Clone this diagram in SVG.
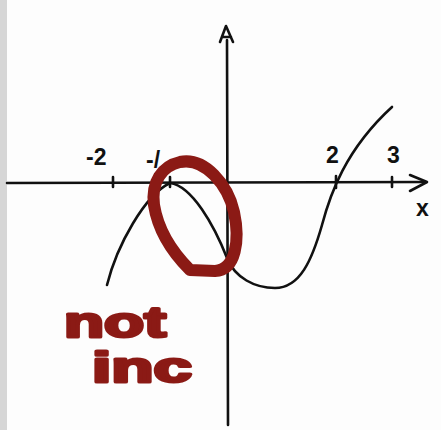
<svg xmlns="http://www.w3.org/2000/svg" width="441" height="430" viewBox="0 0 441 430">
<style>
.ink{fill:none;stroke:#111;stroke-width:2.6;stroke-linecap:round;stroke-linejoin:round}
.lbl{font-family:"Liberation Sans",Arial,sans-serif;font-weight:bold;font-size:23px;fill:#111}
.red{font-family:"Liberation Sans",Arial,sans-serif;font-weight:bold;fill:#8b1a15;stroke:#8b1a15;stroke-width:3;stroke-linejoin:round}
</style>
<rect width="441" height="430" fill="#fdfdfd"/>
<rect width="7" height="430" fill="#d6d6d6"/>
<g id="axes">
<path class="ink" d="M7,183 L425,182"/>
<path class="ink" d="M410,175 L427,182 L410,191"/>
<path class="ink" d="M227,40 L228,425"/>
<path class="ink" d="M220,42 L226,26 L233,42 M222,37 L231,37"/>
<path class="ink" d="M113,177 L113,187 M170,177 L170,187 M336,176 L336,188 M392,177 L392,187"/>
</g>
<g id="labels">
<text class="lbl" x="86" y="165">-2</text>
<text class="lbl" x="146" y="168">-/</text>
<text class="lbl" x="326" y="163">2</text>
<text class="lbl" x="387" y="163">3</text>
<text class="lbl" x="416" y="216">x</text>
</g>
<g id="curve">
<path class="ink" d="M107,285 C117,245 145,195 170,183 C192,186 214,225 227,258 C235,278 255,288 275,288 C300,288 312,260 322,225 C330,195 345,150 392,107"/>
</g>
<g id="annotation">
<path d="M180,162 C205,157 228,185 234,212 C240,240 236,270 215,271 L190,270 C172,252 158,230 154,205 C151,182 162,166 180,162 Z" fill="none" stroke="#8b1a15" stroke-width="12" stroke-linejoin="round"/>
<text class="red" x="64" y="337" font-size="42" textLength="102" lengthAdjust="spacingAndGlyphs">not</text>
<text class="red" x="92" y="382" font-size="42" textLength="100" lengthAdjust="spacingAndGlyphs">inc</text>
</g>
</svg>
